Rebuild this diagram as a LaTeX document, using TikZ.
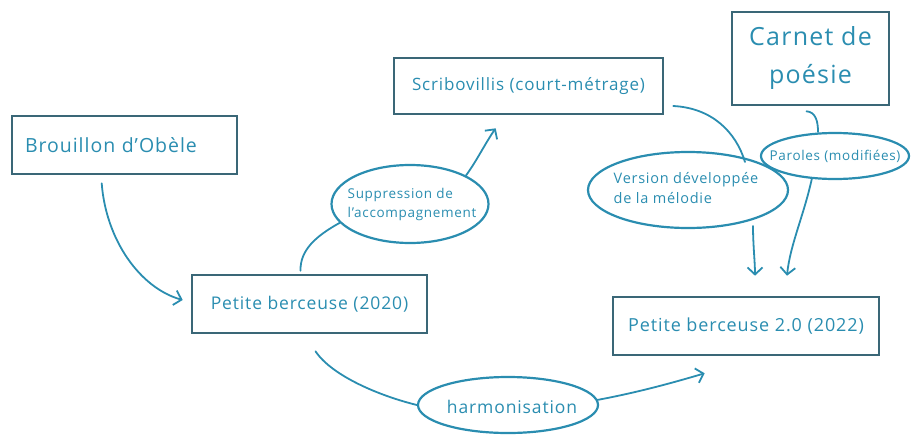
\documentclass[tikz,border=0pt]{standalone}
\usepackage{fontspec}
\setmainfont[LetterSpace=5]{Open Sans}
\usetikzlibrary{arrows.meta,shapes.geometric,calc}
\definecolor{boxline}{HTML}{3A6777}
\definecolor{ink}{HTML}{2A8DB0}
\tikzset{
  box/.style={draw=boxline, line width=2.6pt, rectangle, inner sep=0pt, text=ink, align=center},
  ell/.style={draw=ink, line width=2.2pt, ellipse, inner sep=0pt},
  lbl/.style={text=ink, align=left, inner sep=0pt},
  link/.style={draw=ink, line width=1.8pt, line cap=round},
  arr/.style={link, -{Straight Barb[length=7pt,width=15pt,line width=1.8pt]}}
}
\begin{document}
\begin{tikzpicture}[x=1pt,y=-1pt]
\useasboundingbox (0,0) rectangle (912,434);
% boxes
\node[box, minimum width=225pt, minimum height=58pt, text width=211pt, inner xsep=7pt, align=left, font=\fontsize{19.5}{22}\selectfont] (brou) at (124.5,145) {\hspace{6pt}Brouillon d'Obèle};
\node[box, minimum width=269pt, minimum height=56pt, font=\fontsize{17}{20}\selectfont] (scri) at (528.5,86) {Scribovillis (court-métrage)};
\node[box, minimum width=157pt, minimum height=93pt, font=\fontsize{25}{38}\selectfont] (carn) at (810.5,58.5) {Carnet de\\poésie};
\node[box, minimum width=235pt, minimum height=58pt, font=\fontsize{17.5}{20}\selectfont] (pb1) at (309.5,304) {Petite berceuse (2020)};
\node[box, minimum width=266pt, minimum height=58pt, font=\fontsize{18}{20}\selectfont] (pb2) at (746,326) {Petite berceuse 2.0 (2022)};
% ellipses
\node[ell, minimum width=157pt, minimum height=78pt] (sup) at (410,204) {};
\node[lbl, font=\fontsize{13.5}{19}\selectfont] (suptxt) at ($(sup.center)+(2,0)$) {Suppression de\\l'accompagnement};
\node[ell, minimum width=200pt, minimum height=76pt] (ver) at (688,190) {};
\node[lbl, font=\fontsize{14.5}{20}\selectfont] (vertxt) at ($(ver.center)+(-2,-2)$) {Version développée\\de la mélodie};
\node[ell, minimum width=148pt, minimum height=46pt] (par) at (835,156) {};
\node[lbl, font=\fontsize{13.5}{16}\selectfont] (partxt) at (par.center) {Paroles (modifiées)};
\node[ell, minimum width=180pt, minimum height=56pt] (har) at (508,405) {};
\node[lbl, font=\fontsize{17.5}{20}\selectfont] (hartxt) at ($(har.center)+(4,2)$) {harmonisation};
% connectors
\draw[arr] ($(brou.south west)+(91,8)$) .. controls (106,240) and (140,288) .. ($(pb1.west)+(-8,-4)$);
\draw[link] ($(pb1.north)+(-9,-3)$) .. controls (300,250) and (316,236) .. (sup.195);
\draw[arr] (sup.27) .. controls (476,162) and (486,142) .. ($(scri.south west)+(103,13)$);
\draw[link] ($(scri.east)+(9,20)$) .. controls (712,108) and (736,132) .. ($(ver.center)+(57,-28)$);
\draw[arr] ($(ver.center)+(65,36)$) .. controls (753,245) and (755,262) .. ($(pb2.north)+(9,-20)$);
\draw[link] ($(carn.south)+(-4,5)$) .. controls (816,112) and (818,122) .. ($(par.north)+(-17,0)$);
\draw[arr] ($(par.center)+(-23,22)$) .. controls (804,215) and (790,245) .. ($(pb2.north)+(41,-20)$);
\draw[link] ($(pb1.south)+(6,17)$) .. controls (332,376) and (380,396) .. (har.west);
\draw[arr] ($(har.center)+(89,-5)$) .. controls (640,392) and (675,382) .. ($(pb2.south west)+(93,17)$);
\end{tikzpicture}
\end{document}
